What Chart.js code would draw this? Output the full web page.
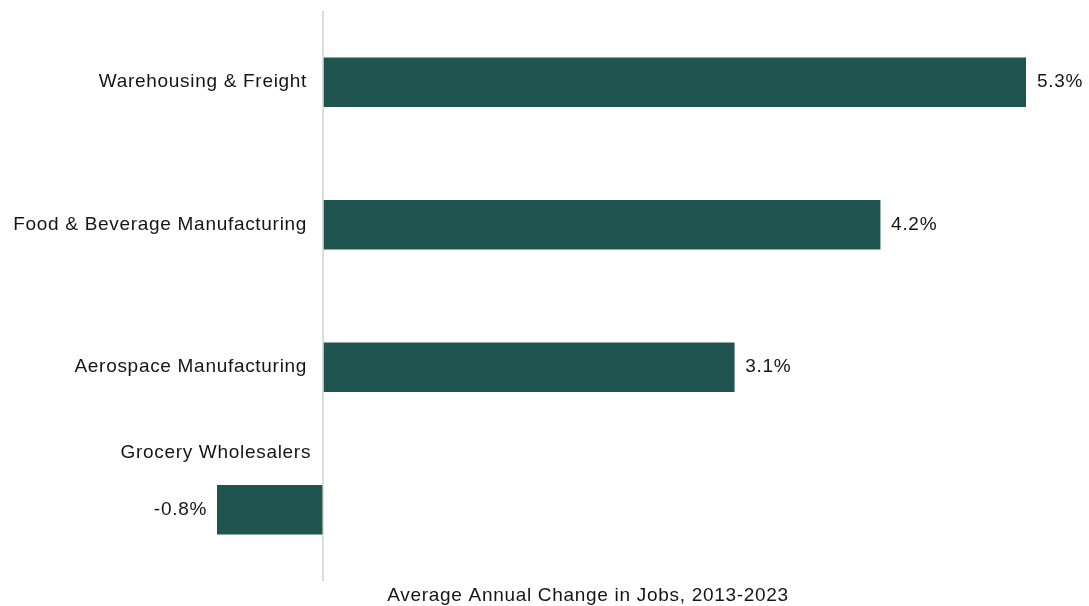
<!DOCTYPE html>
<html>
<head>
<meta charset="utf-8">
<script src="https://cdn.jsdelivr.net/npm/chart.js@4"></script>
<style>
  html, body { margin: 0; padding: 0; background: #ffffff; }
  #wrap { width: 1089px; height: 606px; position: relative; }
</style>
</head>
<body>
<div id="wrap"><canvas id="chart"></canvas></div>
<script>
// Industries and their average annual change in jobs (%)
const industries = [
  'Warehousing & Freight',
  'Food & Beverage Manufacturing',
  'Aerospace Manufacturing',
  'Grocery Wholesalers'
];
const jobChange = [5.3, 4.2, 3.1, -0.8];
const axisTitle = 'Average Annual Change in Jobs, 2013-2023';

const BAR_COLOR = '#1f5450';
const TEXT_COLOR = '#151515';
const FONT = '"Liberation Sans", Arial, sans-serif';

// Draws category names, value labels and the axis caption
const labelPlugin = {
  id: 'labels',
  afterDatasetsDraw(chart) {
    const { ctx } = chart;
    const x = chart.scales.x;
    const y = chart.scales.y;
    const zero = x.getPixelForValue(0);
    const meta = chart.getDatasetMeta(0);
    ctx.save();
    ctx.fillStyle = TEXT_COLOR;
    ctx.font = '19px ' + FONT;
    ctx.letterSpacing = '0.7px';
    ctx.textBaseline = 'middle';
    meta.data.forEach((bar, i) => {
      const v = jobChange[i];
      const cy = y.getPixelForValue(i);
      const h = bar.height;
      // category name
      ctx.textAlign = 'right';
      if (v >= 0) {
        ctx.fillText(industries[i], zero - 16, cy);
      } else {
        ctx.fillText(industries[i], zero - 12, cy - h * 1.16);
      }
      // value label
      const end = x.getPixelForValue(v);
      const txt = v.toFixed(1) + '%';
      if (v >= 0) {
        ctx.textAlign = 'left';
        ctx.fillText(txt, end + 11, cy);
      } else {
        ctx.textAlign = 'right';
        ctx.fillText(txt, end - 10, cy);
      }
    });
    ctx.textAlign = 'center';
    ctx.fillText(axisTitle, 588, 596);
    ctx.restore();
  }
};

new Chart(document.getElementById('chart'), {
  type: 'bar',
  data: {
    labels: industries,
    datasets: [{
      data: jobChange,
      backgroundColor: BAR_COLOR,
      borderWidth: 0,
      barThickness: 49
    }]
  },
  options: {
    indexAxis: 'y',
    responsive: true,
    maintainAspectRatio: false,
    animation: false,
    layout: { padding: { left: 217, right: 63, top: 11, bottom: 25 } },
    plugins: {
      legend: { display: false },
      tooltip: { enabled: false }
    },
    scales: {
      x: {
        min: -0.8,
        max: 5.3,
        afterBuildTicks(scale) { scale.ticks = [{ value: 0 }]; },
        ticks: { display: false },
        border: { display: false },
        grid: {
          drawTicks: false,
          color: '#dddddd',
          lineWidth: 2
        }
      },
      y: {
        display: false
      }
    }
  },
  plugins: [labelPlugin]
});
</script>
</body>
</html>
